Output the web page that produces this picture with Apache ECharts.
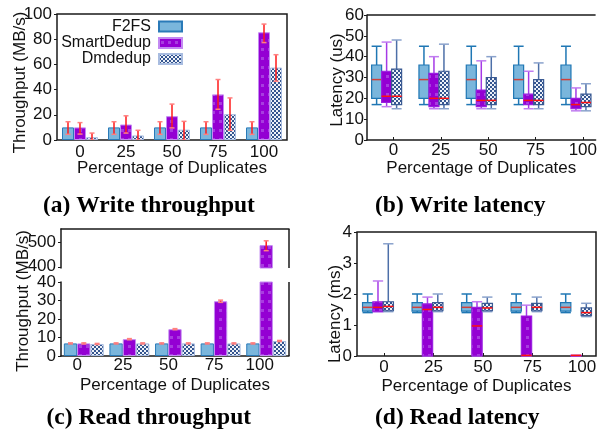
<!DOCTYPE html>
<html><head><meta charset="utf-8">
<script src="https://cdn.jsdelivr.net/npm/echarts@6/dist/echarts.min.js"></script>
<style>
html,body{margin:0;padding:0;background:#fff}
#wrap{position:relative;width:600px;height:432px;overflow:hidden}
.p{position:absolute;width:300px;height:216px}
#pa{left:0;top:0}#pb{left:300px;top:0}#pc{left:0;top:216px}#pd{left:300px;top:216px}
</style>
</head><body><div id="wrap"><div class="p" id="pa"></div><div class="p" id="pb"></div><div class="p" id="pc"></div><div class="p" id="pd"></div></div><script>
// ---------- data ----------
const categories = ['0', '25', '50', '75', '100'];
const seriesNames = ['F2FS', 'SmartDedup', 'Dmdedup'];
const captions = ['(a) Write throughput', '(b) Write latency', '(c) Read throughput', '(d) Read latency'];
const xAxisName = 'Percentage of Duplicates';
const yNames = ['Throughput (MB/s)', 'Latency (us)', 'Throughput (MB/s)', 'Latency (ms)'];
const ticksCTop = [400, 500];

// (a) write throughput (MB/s)
const wtF2FS = [10, 10, 10, 10, 10];
const wtSmart = [10, 12.3, 18.9, 36.2, 85.5];
const wtDm = [2.2, 3.6, 8.2, 20.5, 57.5];
const wtF2FSErr = [[4.5, 14.5], [4.5, 14.5], [4.5, 14.5], [4.5, 14.5], [4.5, 14.5]];
const wtSmartErr = [[4.7, 13.8], [5.5, 19.2], [9.6, 28.5], [24.4, 48], [77.3, 92]];
const wtDmErr = [[0, 5.5], [0, 7.7], [0, 14.8], [7.7, 33.4], [46.6, 67.7]];

// (c) read throughput (MB/s)
const rtF2FS = [6.8, 6.8, 6.8, 6.8, 6.8];
const rtSmart = [6.8, 9.1, 14.5, 29.6, 490];
const rtDm = [6.5, 6.8, 6.8, 6.8, 8.1];
const rtF2FSErr = [[6.5, 7.1], [6.5, 7.1], [6.5, 7.1], [6.5, 7.1], [6.5, 7.1]];
const rtSmartErr = [[6.5, 7.1], [8.8, 9.4], [14.2, 14.8], [29.0, 30.2], [467, 508]];
const rtDmErr = [[6.2, 6.8], [6.5, 7.1], [6.5, 7.1], [6.5, 7.1], [7.8, 8.4]];

// (b) write latency (us): [min, q1, median, q3, max]
const wlF2FS = [[17, 20, 29, 36, 45], [17, 20, 29, 36, 45], [17, 20, 29, 36, 45], [17, 20, 29, 36, 45], [17, 20, 29, 36, 45]];
const wlSmart = [[16, 18, 21, 33, 47], [15, 16, 20, 32, 40], [15, 16, 19, 24, 38], [15, 17, 19, 22, 33], [14, 15, 17, 20, 25]];
const wlDm = [[15, 17, 21, 34, 48], [15, 17, 20, 33, 46], [15, 17, 19, 30, 40], [15, 17, 19, 29, 37], [14, 16, 18, 22, 27]];

// (d) read latency (ms): [min, q1, median, q3, max]
const rlF2FS = [[1.40, 1.45, 1.57, 1.72, 2.0], [1.40, 1.45, 1.57, 1.72, 2.0], [1.40, 1.45, 1.57, 1.72, 2.0], [1.40, 1.45, 1.57, 1.72, 2.0], [1.40, 1.45, 1.57, 1.72, 2.0]];
const rlSmart = [[1.43, 1.43, 1.57, 1.75, 2.42], [0, 0, 1.5, 1.68, 1.9], [0, 0, 0.97, 1.57, 1.75], [0, 0, 0.02, 1.29, 1.64], [0, 0, 0.02, 0.02, 0.02]];
const rlDm = [[1.43, 1.46, 1.6, 1.75, 3.62], [1.43, 1.46, 1.57, 1.72, 2.0], [1.43, 1.46, 1.55, 1.7, 1.9], [1.43, 1.46, 1.57, 1.7, 1.9], [1.27, 1.30, 1.4, 1.55, 1.7]];

// ---------- styling helpers ----------
const FONT = '"Liberation Sans", Arial, sans-serif';
const TXT = '#111';
const FRAME = '#1a1a1a';
function makePattern(w, h, draw) {
  const c = document.createElement('canvas'); c.width = w; c.height = h;
  draw(c.getContext('2d'));
  return { image: c, repeat: 'repeat' };
}
const checkPattern = makePattern(4, 4, g => {
  g.fillStyle = '#eef2f9'; g.fillRect(0, 0, 4, 4);
  g.fillStyle = '#34558f'; g.fillRect(0, 0, 2, 2); g.fillRect(2, 2, 2, 2);
});
const purplePattern = makePattern(7, 9, g => {
  g.fillStyle = '#9400d3'; g.fillRect(0, 0, 7, 9);
  g.fillStyle = '#a83ce0'; g.fillRect(2, 3, 3, 3);
});
const barStyles = [
  { color: '#7ab6dc', borderColor: '#2a7ab8', borderWidth: 1 },
  { color: purplePattern, borderColor: '#c38af2', borderWidth: 1 },
  { color: checkPattern, borderColor: '#a8bce0', borderWidth: 1 }
];
const boxStyles = [
  { fill: '#7ab6dc', stroke: '#1f77b4', whisker: '#1f77b4', cap: '#1f77b4', median: '#d0403a' },
  { fill: purplePattern, stroke: '#9a20e0', whisker: '#a53ae6', cap: '#c07cf0', median: '#ff1010' },
  { fill: checkPattern, stroke: '#3b5b94', whisker: '#4d6fa8', cap: '#8aa2cc', median: '#ff1010' }
];
const labelStyle = { color: TXT, fontSize: 17, fontFamily: FONT };
const nameStyle = pad => ({ color: TXT, fontSize: 17, fontFamily: FONT, padding: pad });
const frameLine = { show: true, onZero: false, lineStyle: { color: FRAME, width: 1.5 } };
const frameGrid = { show: true, borderColor: FRAME, borderWidth: 1.5, backgroundColor: 'transparent' };
const captionStyle = { fontFamily: '"Liberation Serif", "Times New Roman", serif', fontWeight: 'bold', fontSize: 23.5, lineHeight: 24, color: '#000' };

function caption(i, left, top) {
  return { text: captions[i], left, top, padding: 0, textStyle: captionStyle };
}
function xName(nameGap) {
  return { name: xAxisName, nameLocation: 'middle', nameGap, nameMoveOverlap: false,
    nameTextStyle: { color: TXT, fontSize: 17, fontFamily: FONT } };
}
function catXAxis(gridIndex, extra) {
  return Object.assign({
    type: 'category', gridIndex, data: categories,
    axisLine: { show: false, onZero: false }, splitLine: { show: false },
    axisTick: { show: true, inside: true, length: 3, alignWithLabel: true, lineStyle: { color: FRAME } },
    axisLabel: Object.assign({ margin: 3.5, interval: 0 }, labelStyle)
  }, extra || {});
}
function labelXAxis(gridIndex, min, max, shift, margin, nameGap, extra) {
  const pos = categories.map((c, i) => i + shift);
  return Object.assign({
    type: 'value', gridIndex, min, max,
    axisLine: { show: false, onZero: false }, splitLine: { show: false },
    axisTick: { show: true, inside: true, length: 3, customValues: pos, lineStyle: { color: FRAME } },
    axisLabel: Object.assign({ customValues: pos, margin, formatter: v => categories[Math.max(0, Math.min(4, Math.round(v - shift)))] }, labelStyle)
  }, xName(nameGap), extra || {});
}
function valYAxis(gridIndex, min, max, interval, margin, extra) {
  return Object.assign({
    type: 'value', gridIndex, min, max, interval,
    axisLine: { show: false, onZero: false }, splitLine: { show: false },
    axisTick: { show: true, inside: false, length: 3, lineStyle: { color: FRAME } },
    axisLabel: Object.assign({ margin }, labelStyle)
  }, extra || {});
}
function yName(i, nameGap, pad) {
  return { name: yNames[i], nameLocation: 'middle', nameGap, nameMoveOverlap: false, nameTextStyle: nameStyle(pad) };
}
// frame edges drawn from the grid rectangle of the coordinate system
function frameSeries(xAxisIndex, yAxisIndex, yVal, sides) {
  return {
    type: 'custom', xAxisIndex, yAxisIndex, silent: true, z: 6, data: [[0, yVal]],
    renderItem: (params) => {
      const c = params.coordSys;
      const st = { stroke: FRAME, lineWidth: 1.5 };
      const ch = [];
      if (sides.indexOf('top') >= 0) ch.push({ type: 'line', shape: { x1: c.x, y1: c.y, x2: c.x + c.width, y2: c.y }, style: st });
      if (sides.indexOf('right') >= 0) ch.push({ type: 'line', shape: { x1: c.x + c.width, y1: c.y, x2: c.x + c.width, y2: c.y + c.height }, style: st });
      return { type: 'group', children: ch };
    }
  };
}
function errorSeries(k, errs, xAxisIndex, yAxisIndex, barW) {
  return {
    type: 'custom', name: seriesNames[k] + ' error', xAxisIndex, yAxisIndex, clip: true, z: 5,
    data: errs.map((e, i) => [i, e[0], e[1]]),
    renderItem: (params, api) => {
      const i = api.value(0);
      const lo = api.coord([i, api.value(1)]);
      const hi = api.coord([i, api.value(2)]);
      const x = lo[0] + (k - 1) * barW;
      const h = 2.5;
      return { type: 'group', children: [
        { type: 'line', shape: { x1: x, y1: lo[1], x2: x, y2: hi[1] }, style: { stroke: '#ff1a1a', lineWidth: 1.5 } },
        { type: 'line', shape: { x1: x - h, y1: lo[1], x2: x + h, y2: lo[1] }, style: { stroke: '#ff8080', lineWidth: 1.5 } },
        { type: 'line', shape: { x1: x - h, y1: hi[1], x2: x + h, y2: hi[1] }, style: { stroke: '#ff8080', lineWidth: 1.5 } }
      ] };
    }
  };
}
function boxSeries(k, rows, xAxisIndex, yAxisIndex, bw) {
  const st = boxStyles[k];
  return {
    type: 'custom', name: seriesNames[k], xAxisIndex, yAxisIndex, z: 4,
    data: rows.map((r, i) => [i].concat(r)),
    renderItem: (params, api) => {
      const i = api.value(0);
      const x = api.coord([i, 0])[0] + (k - 1) * bw;
      const y = d => api.coord([i, api.value(d)])[1];
      const lo = y(1), q1 = y(2), md = y(3), q3 = y(4), hi = y(5);
      const h = bw / 2;
      return { type: 'group', children: [
        { type: 'line', shape: { x1: x, y1: hi, x2: x, y2: q3 }, style: { stroke: st.whisker, lineWidth: 1.5 } },
        { type: 'line', shape: { x1: x, y1: q1, x2: x, y2: lo }, style: { stroke: st.whisker, lineWidth: 1.5 } },
        { type: 'line', shape: { x1: x - h, y1: hi, x2: x + h, y2: hi }, style: { stroke: st.cap, lineWidth: 1.5 } },
        { type: 'line', shape: { x1: x - h, y1: lo, x2: x + h, y2: lo }, style: { stroke: st.cap, lineWidth: 1.5 } },
        { type: 'rect', shape: { x: x - h, y: q3, width: bw, height: Math.max(q1 - q3, 0.5) }, style: { fill: st.fill, stroke: st.stroke, lineWidth: 1.2 } },
        { type: 'line', shape: { x1: x - h, y1: md, x2: x + h, y2: md }, style: { stroke: st.median, lineWidth: 1.5 } }
      ] };
    }
  };
}
function barSeries(k, values, xAxisIndex, yAxisIndex, barWidth) {
  return {
    type: 'bar', name: seriesNames[k], xAxisIndex, yAxisIndex, data: values,
    barWidth, barGap: '0%', clip: true, itemStyle: barStyles[k], z: 3
  };
}

// ---------- panel (a) ----------
const optA = {
  animation: false,
  title: caption(0, 43, 194),
  grid: Object.assign({ left: 57, top: 14, width: 230, height: 126 }, frameGrid),
  xAxis: catXAxis(0, xName(20)),
  yAxis: valYAxis(0, 0, 100, 20, 5, yName(0, 28, [0, 11, 0, 0])),
  legend: seriesNames.map((n, k) => ({
    data: [n], orient: 'horizontal', align: 'right', right: 117, top: [18.5, 35, 51][k],
    padding: 0, icon: 'rect', itemWidth: 23, itemHeight: 10, selectedMode: false,
    textStyle: { color: TXT, fontSize: 16, fontFamily: FONT, lineHeight: 14, padding: [0, 3, 0, 0] }
  })),
  series: [
    barSeries(0, wtF2FS, 0, 0, 12), barSeries(1, wtSmart, 0, 0, 12), barSeries(2, wtDm, 0, 0, 12),
    errorSeries(0, wtF2FSErr, 0, 0, 12), errorSeries(1, wtSmartErr, 0, 0, 12), errorSeries(2, wtDmErr, 0, 0, 12)
  ]
};
// ---------- panel (b) ----------
const optB = {
  animation: false,
  title: caption(1, 75, 194),
  grid: { left: 67, top: 15, width: 233, height: 125 },
  xAxis: labelXAxis(0, -0.4145, 4.415, 0.145, 1.5, 20, { axisLine: frameLine }),
  yAxis: valYAxis(0, 0, 60, 10, 3, Object.assign({ axisLine: frameLine }, yName(1, 21, [0, 5, 0, 0]))),
  series: [
    boxSeries(0, wlF2FS, 0, 0, 10), boxSeries(1, wlSmart, 0, 0, 10), boxSeries(2, wlDm, 0, 0, 10),
    frameSeries(0, 0, 0, ['top'])
  ]
};
// ---------- panel (c) ----------
const optC = {
  animation: false,
  title: caption(2, 46.5, 190),
  grid: [
    { left: 61, top: 13, width: 228, height: 39 },
    { left: 61, top: 66, width: 228, height: 74 }
  ],
  xAxis: [
    catXAxis(0, { position: 'top', axisLine: frameLine, axisTick: { show: false }, axisLabel: { show: false } }),
    catXAxis(1, Object.assign({ axisLine: frameLine,
      axisLabel: Object.assign({ margin: 0.5, interval: 0, padding: [0, 13, 0, 0] }, labelStyle) }, xName(21)))
  ],
  yAxis: [
    valYAxis(0, 395, 557, null, 5, {
      axisLine: frameLine,
      axisTick: { show: true, length: 3, customValues: ticksCTop, lineStyle: { color: FRAME } },
      axisLabel: Object.assign({ margin: 5, customValues: ticksCTop, lineHeight: 12 }, labelStyle)
    }),
    valYAxis(1, 0, 40, 10, 5, Object.assign({ axisLine: frameLine,
      axisLabel: Object.assign({ margin: 5, lineHeight: 12 }, labelStyle) }, yName(2, 29, [0, 0, 0, 36])))
  ],
  series: [
    barSeries(0, rtF2FS, 0, 0, 13.3), barSeries(1, rtSmart, 0, 0, 13.3), barSeries(2, rtDm, 0, 0, 13.3),
    errorSeries(0, rtF2FSErr, 0, 0, 13.3), errorSeries(1, rtSmartErr, 0, 0, 13.3), errorSeries(2, rtDmErr, 0, 0, 13.3),
    frameSeries(0, 0, 400, ['right']),
    barSeries(0, rtF2FS, 1, 1, 13.3), barSeries(1, rtSmart, 1, 1, 13.3), barSeries(2, rtDm, 1, 1, 13.3),
    errorSeries(0, rtF2FSErr, 1, 1, 13.3), errorSeries(1, rtSmartErr, 1, 1, 13.3), errorSeries(2, rtDmErr, 1, 1, 13.3),
    frameSeries(1, 1, 0, ['right'])
  ]
};
// ---------- panel (d) ----------
const optD = {
  animation: false,
  title: caption(3, 75, 190),
  grid: Object.assign({ left: 57, top: 16, width: 239, height: 124 }, frameGrid),
  xAxis: labelXAxis(0, -0.424, 4.404, 0.12, 2.5, 22),
  yAxis: valYAxis(0, 0, 4, 1, 5, yName(3, 13, [0, 40, 0, 0])),
  series: [
    boxSeries(0, rlF2FS, 0, 0, 10.3), boxSeries(1, rlSmart, 0, 0, 10.3), boxSeries(2, rlDm, 0, 0, 10.3)
  ]
};

[['pa', optA], ['pb', optB], ['pc', optC], ['pd', optD]].forEach(([id, opt]) => {
  const chart = echarts.init(document.getElementById(id), null, { renderer: 'canvas' });
  chart.setOption(opt);
});
</script></body></html>
